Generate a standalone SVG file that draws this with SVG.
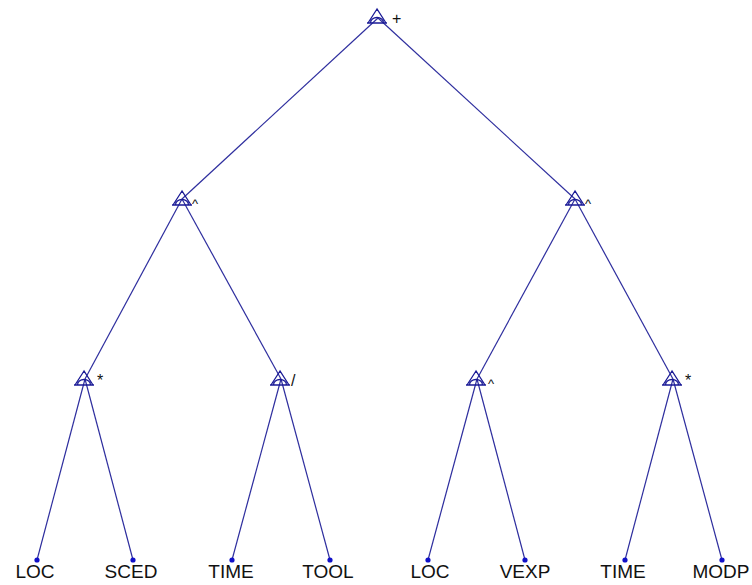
<svg xmlns="http://www.w3.org/2000/svg" width="752" height="585" viewBox="0 0 752 585">
<style>
.edge{stroke:#2e2e9e;stroke-width:1.2;fill:none}
.tri{stroke:#1a1a96;stroke-width:1.3;fill:none}
.dot{fill:#1010c8}
.op{font-family:"Liberation Sans",Arial,sans-serif;fill:#111;font-size:16px}
.pw{font-size:13px}
.leaf{font-family:"Liberation Sans",Arial,sans-serif;fill:#111;font-size:19px;text-anchor:middle}
</style>
<defs>
<g id="opnode">
<path class="tri" d="M0,-10 L-9,4 L9,4 Z M-10,4 L10,4 M-6.5,4 A6.5,5.5 0 0 1 6.5,4"/>
</g>
</defs>
<rect width="752" height="585" fill="#ffffff"/>
<g id="connectors">
<line class="edge" x1="378" y1="18" x2="182" y2="199"/>
<line class="edge" x1="378" y1="18" x2="575" y2="199"/>
<line class="edge" x1="182" y1="199" x2="85" y2="379"/>
<line class="edge" x1="182" y1="199" x2="281" y2="379"/>
<line class="edge" x1="575" y1="199" x2="477" y2="379"/>
<line class="edge" x1="575" y1="199" x2="673" y2="379"/>
<line class="edge" x1="85" y1="379" x2="37" y2="560"/>
<line class="edge" x1="85" y1="379" x2="133" y2="560"/>
<line class="edge" x1="281" y1="379" x2="232" y2="560"/>
<line class="edge" x1="281" y1="379" x2="330" y2="560"/>
<line class="edge" x1="477" y1="379" x2="428" y2="560"/>
<line class="edge" x1="477" y1="379" x2="525" y2="560"/>
<line class="edge" x1="673" y1="379" x2="625" y2="560"/>
<line class="edge" x1="673" y1="379" x2="722" y2="560"/>
</g>
<g id="n-root"><use href="#opnode" x="377" y="19"/><text class="op" x="392" y="24" font-size="18">+</text></g>
<g id="n-pow1"><use href="#opnode" x="182" y="201"/><text class="op pw" x="192" y="208">^</text></g>
<g id="n-pow2"><use href="#opnode" x="575" y="201"/><text class="op pw" x="585" y="208">^</text></g>
<g id="n-mul1"><use href="#opnode" x="84" y="381"/><text class="op" x="97" y="386">*</text></g>
<g id="n-div"><use href="#opnode" x="280" y="381"/><text class="op" x="291" y="386">/</text></g>
<g id="n-pow3"><use href="#opnode" x="476" y="381"/><text class="op pw" x="488" y="388">^</text></g>
<g id="n-mul2"><use href="#opnode" x="672" y="381"/><text class="op" x="685" y="386">*</text></g>
<g id="leaf1"><circle class="dot" cx="37" cy="560" r="2.6"/><text class="leaf" x="35" y="578">LOC</text></g>
<g id="leaf2"><circle class="dot" cx="133" cy="560" r="2.6"/><text class="leaf" x="131" y="578">SCED</text></g>
<g id="leaf3"><circle class="dot" cx="232" cy="560" r="2.6"/><text class="leaf" x="231" y="578">TIME</text></g>
<g id="leaf4"><circle class="dot" cx="330" cy="560" r="2.6"/><text class="leaf" x="328" y="578">TOOL</text></g>
<g id="leaf5"><circle class="dot" cx="428" cy="560" r="2.6"/><text class="leaf" x="430" y="578">LOC</text></g>
<g id="leaf6"><circle class="dot" cx="525" cy="560" r="2.6"/><text class="leaf" x="525" y="578">VEXP</text></g>
<g id="leaf7"><circle class="dot" cx="625" cy="560" r="2.6"/><text class="leaf" x="623" y="578">TIME</text></g>
<g id="leaf8"><circle class="dot" cx="722" cy="560" r="2.6"/><text class="leaf" x="721" y="578">MODP</text></g>
</svg>
